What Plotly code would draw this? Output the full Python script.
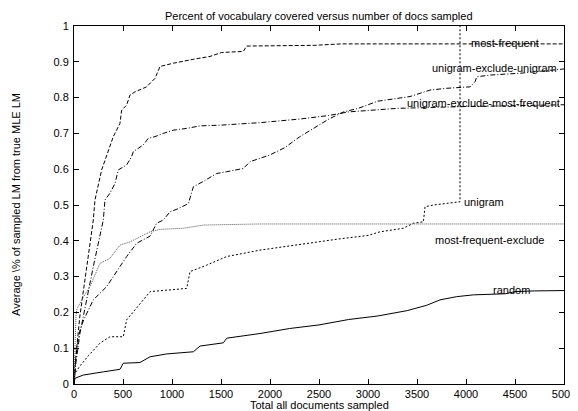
import plotly.graph_objects as go

title_text = "Percent of vocabulary covered versus number of docs sampled"
x_title = "Total all documents sampled"
y_title = "Average \\% of sampled LM from true MLE LM"

x_ticks = [0, 500, 1000, 1500, 2000, 2500, 3000, 3500, 4000, 4500, 5000]
y_ticks = [0, 0.1, 0.2, 0.3, 0.4, 0.5, 0.6, 0.7, 0.8, 0.9, 1]
y_tick_labels = ["0", "0.1", "0.2", "0.3", "0.4", "0.5", "0.6", "0.7", "0.8", "0.9", "1"]

mf_x = [0, 20, 60, 100, 130, 160, 197, 214, 282, 401, 469, 486, 537, 571, 622, 741, 827, 878,
        1013, 1218, 1388, 1507, 1728, 1762, 1898, 2200, 2450, 2724, 3500, 5000]
mf_y = [0, 0.08, 0.19, 0.27, 0.33, 0.39, 0.458, 0.514, 0.598, 0.691, 0.728, 0.765, 0.779, 0.807,
        0.816, 0.830, 0.854, 0.887, 0.896, 0.907, 0.915, 0.926, 0.929, 0.944, 0.944, 0.945, 0.946,
        0.95, 0.95, 0.95]

uemf_x = [0, 20, 61, 100, 129, 197, 265, 299, 316, 367, 418, 452, 537, 588, 605, 707, 758, 827,
          911, 1013, 1150, 1286, 1490, 1898, 2300, 2600, 2800, 3300, 4000, 5000]
uemf_y = [0, 0.06, 0.142, 0.19, 0.235, 0.328, 0.421, 0.458, 0.514, 0.533, 0.56, 0.598, 0.612,
          0.635, 0.649, 0.668, 0.686, 0.691, 0.700, 0.709, 0.714, 0.721, 0.723, 0.730, 0.74, 0.75,
          0.76, 0.77, 0.775, 0.78]

ueu_x = [0, 10, 30, 60, 100, 150, 197, 333, 450, 537, 639, 776, 843, 911, 980, 1065, 1167, 1218,
         1320, 1456, 1558, 1728, 1796, 1898, 2000, 2150, 2300, 2450, 2600, 2750, 2900, 3100, 3429,
         3633, 3803, 4041, 4092, 4109, 4245, 4551, 4959, 5000]
ueu_y = [0, 0.05, 0.1, 0.15, 0.18, 0.21, 0.235, 0.272, 0.32, 0.356, 0.393, 0.413, 0.449, 0.458,
         0.481, 0.490, 0.504, 0.551, 0.566, 0.588, 0.593, 0.602, 0.621, 0.630, 0.64, 0.66, 0.69,
         0.715, 0.74, 0.76, 0.77, 0.79, 0.803, 0.821, 0.826, 0.830, 0.844, 0.858, 0.863, 0.868,
         0.877, 0.88]

uni_x = [0, 10, 60, 150, 265, 367, 503, 537, 707, 776, 1150, 1184, 1354, 1558, 1898, 2300, 2700,
         3000, 3122, 3360, 3463, 3565, 3582, 3667, 3803, 3939, 3939]
uni_y = [0, 0.03, 0.05, 0.08, 0.114, 0.132, 0.132, 0.179, 0.235, 0.258, 0.267, 0.314, 0.332,
         0.356, 0.374, 0.39, 0.405, 0.415, 0.425, 0.435, 0.449, 0.453, 0.495, 0.500, 0.504, 0.509,
         1.0]

mfe_x = [0, 10, 20, 30, 60, 100, 163, 265, 367, 469, 571, 776, 878, 1116, 1320, 1898, 3000, 5000]
mfe_y = [0, 0.1, 0.19, 0.21, 0.225, 0.245, 0.272, 0.337, 0.351, 0.388, 0.397, 0.425, 0.432,
         0.435, 0.444, 0.447, 0.447, 0.447]

rnd_x = [0, 10, 95, 197, 299, 469, 503, 673, 776, 946, 1082, 1218, 1286, 1422, 1524, 1558, 1728,
         1898, 2200, 2500, 2800, 3100, 3400, 3600, 3735, 3905, 4075, 4400, 4450, 4500, 4700, 5000]
rnd_y = [0, 0.016, 0.025, 0.03, 0.034, 0.041, 0.058, 0.06, 0.076, 0.084, 0.088, 0.09, 0.106,
         0.112, 0.115, 0.128, 0.134, 0.141, 0.155, 0.165, 0.18, 0.19, 0.205, 0.22, 0.235, 0.244,
         0.249, 0.252, 0.255, 0.258, 0.26, 0.261]

series = [
    ("most-frequent", mf_x, mf_y, "4px,2px", "black"),
    ("unigram-exclude-unigram", ueu_x, ueu_y, "5px,2px,1px,2px", "black"),
    ("unigram-exclude-most-frequent", uemf_x, uemf_y, "5px,2px,1px,2px", "black"),
    ("unigram", uni_x, uni_y, "2px,2px", "black"),
    ("most-frequent-exclude", mfe_x, mfe_y, "1px,1px", "#555555"),
    ("random", rnd_x, rnd_y, "solid", "black"),
]

# label positions (data coords)
labels = [
    ("most-frequent", 4400, 0.953, "center"),
    ("unigram-exclude-unigram", 4950, 0.883, "right"),
    ("unigram-exclude-most-frequent", 4980, 0.785, "right"),
    ("unigram", 3955, 0.508, "left"),
    ("most-frequent-exclude", 4235, 0.402, "center"),
    ("random", 4460, 0.262, "center"),
]

fig = go.Figure()
for name, xs, ys, dash, color in series:
    fig.add_trace(go.Scatter(x=xs, y=ys, mode="lines", name=name,
                             line=dict(color=color, width=1, dash=dash)))

for text, lx, ly, anchor in labels:
    fig.add_annotation(x=lx, y=ly, text=text, showarrow=False, xanchor=anchor,
                       yanchor="middle", font=dict(size=11, color="black"))

font_family = "Liberation Sans, Arial, sans-serif"
fig.add_annotation(xref="paper", yref="paper", x=0.5, y=1, yshift=10, text=title_text,
                   showarrow=False, yanchor="middle", font=dict(size=11, color="black"))
fig.add_annotation(xref="paper", yref="paper", x=0.5, y=0, yshift=-21, text=x_title,
                   showarrow=False, yanchor="middle", font=dict(size=11, color="black"))
fig.add_annotation(xref="paper", yref="paper", x=0, y=0.5, xshift=-58, text=y_title,
                   showarrow=False, textangle=-90, xanchor="center", yanchor="middle",
                   font=dict(size=11, color="black"))

axis_common = dict(showline=True, linecolor="black", linewidth=1, mirror="ticks",
                   ticks="inside", ticklen=5, tickcolor="black", showgrid=False,
                   zeroline=False, automargin=False, tickfont=dict(size=11, color="black"))
fig.update_xaxes(range=[0, 5000], tickmode="array", tickvals=x_ticks,
                 ticktext=[str(v) for v in x_ticks], ticklabelstandoff=0, **axis_common)
fig.update_yaxes(range=[0, 1], tickmode="array", tickvals=y_ticks, ticktext=y_tick_labels,
                 ticklabelstandoff=2, **axis_common)

# the page body adds an 8px offset, so the figure is 8px smaller on each axis
fig.update_layout(width=570, height=403, margin=dict(l=66, r=14, t=18, b=27),
                  plot_bgcolor="white", paper_bgcolor="white", showlegend=False,
                  font=dict(family=font_family, size=11, color="black"))

fig.write_html("out.html")
